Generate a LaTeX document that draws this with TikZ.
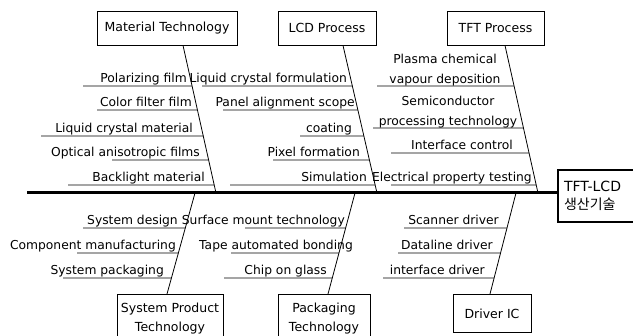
\documentclass[tikz,border=0pt]{standalone}
\usepackage{fontspec}
\setmainfont{DejaVu Sans}
\newfontfamily\krfont{Noto Sans CJK KR}

\begin{document}
\begin{tikzpicture}[x=1pt, y=-1pt,
    cat/.style={rectangle, draw, line width=0.8pt, minimum height=34pt, align=center, font=\fontsize{12.5}{19}\selectfont},
    lbl/.style={inner sep=0pt, font=\fontsize{12.3}{20}\selectfont},
    bone/.style={line width=0.8pt},
    spine/.style={line width=3pt}
]
    \clip (0,0) rectangle (633,336);

    % cause boxes
    \node[cat, minimum width=140pt] (mat) at (167,28) {Material Technology};
    \node[cat, minimum width=98pt] (lcd) at (327,28) {LCD Process};
    \node[cat, minimum width=97pt] (tft) at (495.5,28) {TFT Process};
    \node[cat, minimum width=106pt, minimum height=48pt, anchor=north] (sys) at (170,294) {System Product\\Technology};
    \node[cat, minimum width=92pt, minimum height=48pt, anchor=north] (pkg) at (324,294) {Packaging\\Technology};
    \node[cat, minimum width=78pt, minimum height=38pt, anchor=north] (drv) at (492,294) {Driver IC};

    % effect box and spine
    \node[draw, line width=2pt, anchor=north west, text width=70pt, inner xsep=6pt, minimum height=52pt,
          align=left, font=\fontsize{14}{18}\selectfont] (goal) at (557,169) {TFT-LCD\\{\krfont 생산기술}};
    \coordinate (tail) at (27,193);
    \draw[spine] (tail) -- (tail -| goal.west);

    % bones
    \coordinate (mattop) at ([xshift=16pt]mat.south);
    \coordinate (matend) at (216,193);
    \coordinate (lcdtop) at ([xshift=16pt]lcd.south);
    \coordinate (lcdend) at (377,193);
    \coordinate (tfttop) at ([xshift=9.5pt]tft.south);
    \coordinate (tftend) at (538,193);
    \coordinate (systop) at ([xshift=-3pt]sys.north);
    \coordinate (sysend) at (195,193);
    \coordinate (pkgtop) at ([xshift=4pt]pkg.north);
    \coordinate (pkgend) at (355,193);
    \coordinate (drvtop) at ([xshift=-2pt]drv.north);
    \coordinate (drvend) at (516,193);
    \foreach \n in {mat,lcd,tft,sys,pkg,drv}
        \draw[bone] (\n top) -- (\n end);

    % Material Technology
    \foreach \yy/\xa/\xt/\txt [count=\i] in {86/83/187/Polarizing film, 110/97/192/Color filter film,
        136/41/193/Liquid crystal material, 160/112/200/Optical anisotropic films, 185/68/205/Backlight material}{
        \node[lbl, anchor=base east] (mat\i) at (\xt,\yy-3) {\txt};
        \draw[bone] (\xa,\yy) -- (intersection of mattop--matend and 0,\yy--1,\yy);
    }

    % LCD Process
    \foreach \yy/\xa/\xt/\txt [count=\i] in {86/202/347/Liquid crystal formulation, 110/223/355/Panel alignment scope,
        136/300/352/coating, 160/273/360/Pixel formation, 185/230/367/Simulation}{
        \node[lbl, anchor=base east] (lcd\i) at (\xt,\yy-3) {\txt};
        \draw[bone] (\xa,\yy) -- (intersection of lcdtop--lcdend and 0,\yy--1,\yy);
    }

    % TFT Process
    \node[lbl, align=center, anchor=south] (tft1) at (445,86) {Plasma chemical\\vapour deposition};
    \draw[bone] (377,86) -- (intersection of tfttop--tftend and 0,86--1,86);
    \node[lbl, align=center, anchor=south] (tft2) at (448,128) {Semiconductor\\processing technology};
    \draw[bone] (373,128) -- (intersection of tfttop--tftend and 0,128--1,128);
    \foreach \yy/\xa/\xt/\txt [count=\i from 3] in {153/391/513/Interface control, 185/391/532/Electrical property testing}{
        \node[lbl, anchor=base east] (tft\i) at (\xt,\yy-3) {\txt};
        \draw[bone] (\xa,\yy) -- (intersection of tfttop--tftend and 0,\yy--1,\yy);
    }

    % System Product Technology
    \foreach \yy/\xa/\xt/\txt [count=\i] in {228/83/178/System design, 253/77/176/Component manufacturing,
        278/63/164/System packaging}{
        \node[lbl, anchor=base east] (sys\i) at (\xt,\yy-3) {\txt};
        \draw[bone] (\xa,\yy) -- (intersection of systop--sysend and 0,\yy--1,\yy);
    }

    % Packaging Technology
    \foreach \yy/\xa/\xt/\txt [count=\i] in {228/245/345/Surface mount technology, 253/231/353/Tape automated bonding,
        278/224/327/Chip on glass}{
        \node[lbl, anchor=base east] (pkg\i) at (\xt,\yy-3) {\txt};
        \draw[bone] (\xa,\yy) -- (intersection of pkgtop--pkgend and 0,\yy--1,\yy);
    }

    % Driver IC
    \foreach \yy/\xa/\xt/\txt [count=\i] in {228/404/499/Scanner driver, 253/398/493/Dataline driver,
        278/383/485/interface driver}{
        \node[lbl, anchor=base east] (drv\i) at (\xt,\yy-3) {\txt};
        \draw[bone] (\xa,\yy) -- (intersection of drvtop--drvend and 0,\yy--1,\yy);
    }
\end{tikzpicture}
\end{document}
